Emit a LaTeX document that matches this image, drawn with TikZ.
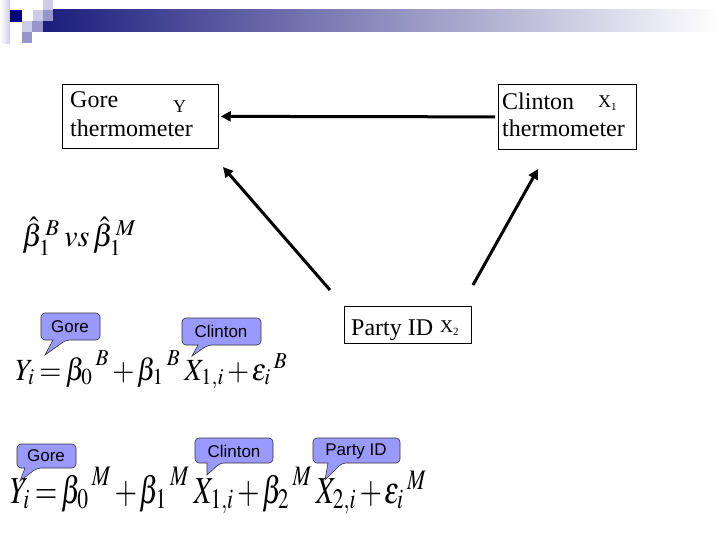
\documentclass[tikz,border=0pt]{standalone}
\usepackage{mathptmx}
\usepackage{fontspec}
\setmainfont{Liberation Serif}
\newfontfamily\arialfont{Liberation Sans}
\usetikzlibrary{arrows.meta}
\definecolor{bubblecol}{RGB}{153,153,255}
\definecolor{navyc}{RGB}{0,0,128}
\definecolor{lightsq}{RGB}{204,204,232}
\definecolor{medsq}{RGB}{150,150,204}
\definecolor{barleft}{RGB}{28,28,125}
\definecolor{barmid}{RGB}{160,160,188}
% #1 x1, #2 y1, #3 x2, #4 y2, #5 tail base left, #6 tail base right, #7 tip x, #8 tip y
\newcommand\mybubble[8]{\draw[bubble] (#7,#8) -- (#5,#4) [rounded corners=4pt] -- (#1,#4) -- (#1,#2) -- (#3,#2) -- (#3,#4) -- (#6,#4) [sharp corners] -- cycle;}
\newcommand\tighteq{\thickmuskip=2.5mu plus 1mu\medmuskip=1.5mu plus 1mu}
\newcommand\supgap{\mkern2mu}
\begin{document}
\begin{tikzpicture}[x=1pt,y=-1pt,
  box/.style={draw, line width=0.75pt, inner sep=0pt, anchor=north west},
  tnode/.style={inner sep=0pt, anchor=base west, font=\fontsize{24}{28}\selectfont},
  tsmall/.style={inner sep=0pt, anchor=base west, font=\fontsize{18}{20}\selectfont},
  arr/.style={line width=3pt, -{Triangle[length=10pt,width=10pt]}},
  bubble/.style={draw=black!80, fill=bubblecol, line width=0.6pt},
  btext/.style={inner sep=0pt, font=\arialfont\fontsize{17}{19}\selectfont},
  eqn/.style={inner sep=0pt, anchor=base west}]
\useasboundingbox (0,0) rectangle (720,540);
\fill[white] (0,0) rectangle (720,540);

% title decoration
\shade[left color=white, right color=lightsq] (0,0) rectangle (10,44);
\shade[left color=barleft, middle color=barmid, right color=white] (43,10) rectangle (720,32);
\fill[navyc] (10,10) rectangle (22,22);
\fill[lightsq] (33,10) rectangle (43,21);
\fill[lightsq] (43,0) rectangle (53,10);
\fill[medsq] (43,10) rectangle (53,21);
\fill[lightsq] (22,21) rectangle (32,32);
\fill[medsq] (32,21) rectangle (43,32);
\fill[medsq] (22,32) rectangle (32,43);

% boxes
\node[box, minimum width=156pt, minimum height=64pt] (gore) at (62,84) {};
\node[tnode] (goreA) at (70,108) {Gore};
\node[tsmall] (goreY) at (173,113) {Y};
\node[tnode] (goreB) at (70,137) {thermometer};

\node[box, minimum width=138pt, minimum height=65pt] (clinton) at (498,84) {};
\node[tnode] (clinA) at (502,110) {Clinton};
\node[tsmall] (clinX) at (598,108) {X{\fontsize{11}{12}\selectfont\raisebox{-3pt}{1}}};
\node[tnode] (clinB) at (502,137) {thermometer};

\node[box, minimum width=127pt, minimum height=37pt] (party) at (344,306) {};
\node[tnode] (partyA) at (351,335) {Party ID};
\node[tsmall] (partyX) at (440,332) {X{\fontsize{11}{12}\selectfont\raisebox{-3pt}{2}}};

% arrows
\coordinate (pl0) at (330,290);
\coordinate (pl1) at (223,167);
\coordinate (pr0) at (473,285);
\coordinate (pr1) at (538,169);
\draw[arr] ([xshift=-3pt]clinton.west) -- ([xshift=2pt]gore.east);
\draw[arr] (pl0) -- (pl1);
\draw[arr] (pr0) -- (pr1);

% beta hats
\node[inner sep=0pt, anchor=west] (bhat) at (22,236)
  {\resizebox{115pt}{!}{$\hat{\beta}_1^{\supgap B}\,vs\,\hat{\beta}_1^{\supgap M}$}};

% callouts, first equation
\mybubble{41}{313}{100}{340}{53}{66}{45}{355}
\node[btext] (c1) at (70,327) {Gore};
\mybubble{182}{318}{261}{345}{198}{208}{192}{356}
\node[btext] (c2) at (221,331) {Clinton};

\node[eqn] (eq1) at (15,380)
  {\resizebox*{273pt}{38pt}{\tighteq$Y_i = {\beta_0}^{\supgap B} + {\beta_1}^{\supgap B}\, X_{1,i} + {\varepsilon_i}^{\supgap B}$}};

% callouts, second equation
\mybubble{17}{444}{76}{468}{25}{37}{20}{481}
\node[btext] (c3) at (46,456) {Gore};
\mybubble{195}{438}{273}{463}{207}{220}{207}{475}
\node[btext] (c4) at (234,451) {Clinton};
\mybubble{313}{438}{400}{463}{328}{342}{325}{480}
\node[btext] (c5) at (356,451) {Party ID};

\node[eqn] (eq2) at (10,503)
  {\resizebox*{417pt}{47pt}{\tighteq$Y_i = {\beta_0}^{\supgap M} + {\beta_1}^{\supgap M}\, X_{1,i} + {\beta_2}^{\supgap M}\, X_{2,i} + {\varepsilon_i}^{\supgap M}$}};
\end{tikzpicture}
\end{document}
